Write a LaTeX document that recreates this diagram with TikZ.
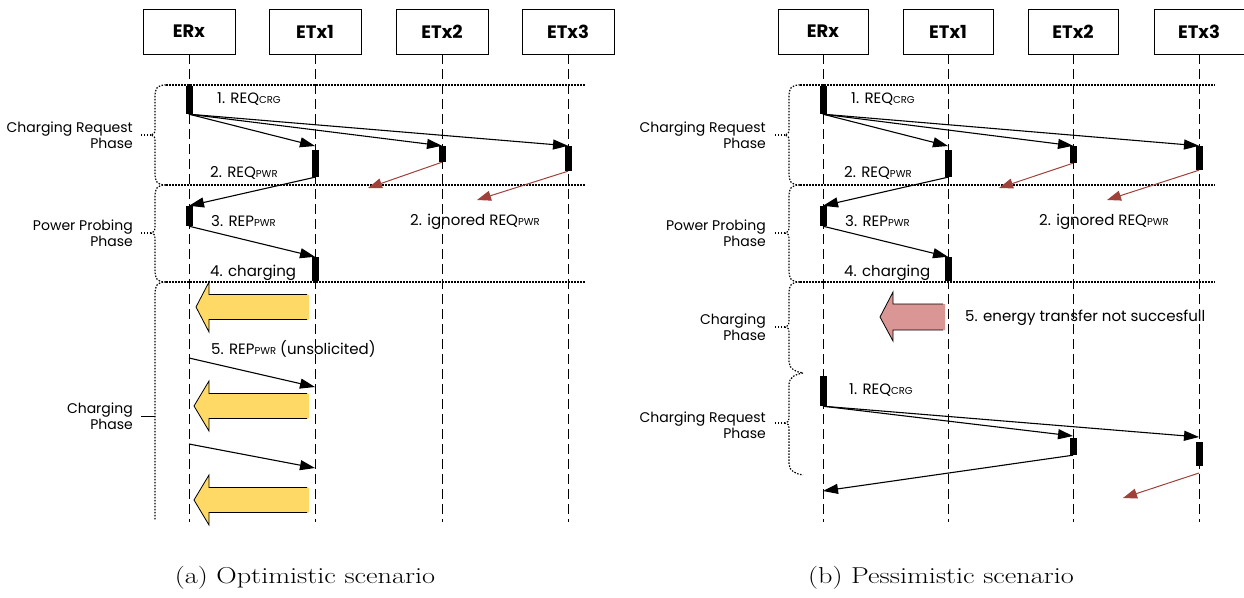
\documentclass[tikz,border=0pt]{standalone}
\usepackage{fontspec}
\usepackage{tikz}
\usetikzlibrary{arrows.meta}

\newfontfamily\diagfont{Poppins}
\definecolor{chargeyellow}{HTML}{FFD966}
\definecolor{failpink}{HTML}{D99694}
\definecolor{ignorered}{HTML}{A0403A}
\newcommand{\idx}[1]{{\fontsize{10}{10}\selectfont #1}}

\begin{document}
\begin{tikzpicture}[x=1pt,y=-1pt,
    font=\diagfont\fontsize{15}{16}\selectfont,
    entity/.style={draw,line width=0.8pt,minimum width=92pt,minimum height=45pt,
        inner sep=0pt,font=\diagfont\bfseries\fontsize{18}{18}\selectfont},
    lifeline/.style={line width=1pt,dash pattern=on 10pt off 5pt},
    phaseline/.style={line width=1.2pt,dash pattern=on 1.5pt off 1.5pt},
    bar/.style={fill=black,inner sep=0pt,minimum width=7pt},
    msg/.style={line width=1.1pt,-{Triangle[length=15pt,width=10pt]}},
    ignored/.style={ignorered,line width=1pt,-{Triangle[length=14pt,width=10pt]}},
    label/.style={inner sep=0pt,anchor=west},
    phase/.style={inner sep=0pt,anchor=east,align=right,
        font=\diagfont\fontsize{14}{16}\selectfont},
    caption/.style={font=\fontsize{23}{26}\selectfont,xscale=1.23,transform shape}]
    \useasboundingbox (0,0) rectangle (1244,597);

    % (a) Entities and lifelines
    \node [entity] (erxA) at (189,31.5) {ERx};
    \node [entity] (etxoneA) at (315,31.5) {ETx1};
    \node [entity] (etxtwoA) at (442,31.5) {ETx2};
    \node [entity] (etxthreeA) at (568,31.5) {ETx3};
    \draw [lifeline] (erxA.south) -- ++(0,468);
    \draw [lifeline] (etxoneA.south) -- ++(0,468);
    \draw [lifeline] (etxtwoA.south) -- ++(0,468);
    \draw [lifeline] (etxthreeA.south) -- ++(0,468);

    % (a) Phase separators and braces
    \draw [phaseline] (166,85) -- (585,85);
    \draw [phaseline] (166,185) -- (585,185);
    \draw [phaseline] (166,282) -- (585,282);
    \draw [phaseline] (166,85) .. controls (157,85) and (155,88) .. (155,97)
        -- (155,129) .. controls (155,133) and (154,135) .. (151,135)
        .. controls (154,135) and (155,137) .. (155,141)
        -- (155,173) .. controls (155,182) and (157,185) .. (166,185);
    \draw [phaseline] (166,185) .. controls (157,185) and (155,188) .. (155,197)
        -- (155,227) .. controls (155,231) and (154,233) .. (151,233)
        .. controls (154,233) and (155,235) .. (155,239)
        -- (155,270) .. controls (155,279) and (157,282) .. (166,282);
    \draw [phaseline] (166,282) .. controls (157,282) and (155,285) .. (155,296)
        -- (155,520);
    \draw [phaseline] (151,135) -- (141,135);
    \draw [phaseline] (151,233) -- (141,233);
    \draw [line width=0.6pt] (155,416) -- (141,416);
    \node [phase] (crpA) at (133,135) {Charging Request\\Phase};
    \node [phase] (pppA) at (133,233) {Power Probing\\Phase};
    \node [phase] (chpA) at (133,416) {Charging\\Phase};

    % (a) Activations
    \node [bar,minimum height=28pt] (rxoneA) at (189,100) {};
    \node [bar,minimum height=27pt] (txoneA) at (315,163.5) {};
    \node [bar,minimum height=16pt] (txtwoA) at (442,154) {};
    \node [bar,minimum height=25pt] (txthreeA) at (568,158.5) {};
    \node [bar,minimum height=20pt] (rxtwoA) at (189,216) {};
    \node [bar,minimum height=24pt] (txfourA) at (315,269) {};

    % (a) Messages
    \coordinate (reqoneA) at (315,146);
    \coordinate (lostoneA) at (368,188);
    \coordinate (losttwoA) at (477,200);
    \draw [msg] (rxoneA.south) -- (reqoneA);
    \draw [msg] (rxoneA.south) -- (txtwoA.north);
    \draw [msg] (rxoneA.south) -- (txthreeA.north);
    \draw [ignored] (txtwoA.south) -- (lostoneA);
    \draw [ignored] (txthreeA.south) -- (losttwoA);
    \draw [msg] (txoneA.south) -- (rxtwoA.north);
    \draw [msg] (rxtwoA.south) -- (txfourA.north);
    \coordinate (unsolAout) at (189,358);
    \coordinate (unsolAin) at (315,387);
    \coordinate (unsolBout) at (189,444);
    \coordinate (unsolBin) at (315,468);
    \draw [msg] (unsolAout) -- (unsolAin);
    \draw [msg] (unsolBout) -- (unsolBin);
    \node [label] (reqcrgA) at (217,99) {1. REQ\idx{CRG}};
    \node [label] (reqpwrA) at (210,173) {2. REQ\idx{PWR}};
    \node [label] (reppwrA) at (211,221) {3. REP\idx{PWR}};
    \node [label] (chargA) at (210,273) {4. charging};
    \node [label] (ignA) at (410,222) {2. ignored REQ\idx{PWR}};
    \node [label] (unsolA) at (211,349) {5. REP\idx{PWR} (unsolicited)};

    % (a) Energy transfer
    \foreach \y/\t in {307/196,406/194,500/194} {
        \fill [chargeyellow] (309,\y-12.5) -- (209,\y-12.5) -- (209,\y-25) -- (\t,\y)
            -- (209,\y+25) -- (209,\y+12.5) -- (309,\y+12.5) -- cycle;
        \draw [line width=0.8pt] (307,\y-12.5) -- (209,\y-12.5) -- (209,\y-25) -- (\t,\y)
            -- (209,\y+25) -- (209,\y+12.5) -- (307,\y+12.5);
    }

    % (b) Entities and lifelines
    \node [entity,minimum width=90pt] (erxB) at (823,31.5) {ERx};
    \node [entity,minimum width=90pt] (etxoneB) at (948,31.5) {ETx1};
    \node [entity,minimum width=90pt] (etxtwoB) at (1073,31.5) {ETx2};
    \node [entity,minimum width=90pt] (etxthreeB) at (1199,31.5) {ETx3};
    \draw [lifeline] (erxB.south) -- ++(0,468);
    \draw [lifeline] (etxoneB.south) -- ++(0,468);
    \draw [lifeline] (etxtwoB.south) -- ++(0,468);
    \draw [lifeline] (etxthreeB.south) -- ++(0,468);

    % (b) Phase separators and braces
    \draw [phaseline] (800,85) -- (1215,85);
    \draw [phaseline] (800,185) -- (1215,185);
    \draw [phaseline] (800,282) -- (1215,282);
    \draw [phaseline] (800,85) .. controls (791,85) and (789,88) .. (789,97)
        -- (789,129) .. controls (789,133) and (788,135) .. (785,135)
        .. controls (788,135) and (789,137) .. (789,141)
        -- (789,173) .. controls (789,182) and (791,185) .. (800,185);
    \draw [phaseline] (800,185) .. controls (791,185) and (789,188) .. (789,197)
        -- (789,227) .. controls (789,231) and (788,233) .. (785,233)
        .. controls (788,233) and (789,235) .. (789,239)
        -- (789,270) .. controls (789,279) and (791,282) .. (800,282);
    \draw [phaseline] (800,282) .. controls (791,282) and (789,285) .. (789,294)
        -- (789,321) .. controls (789,325) and (788,327) .. (785,327)
        .. controls (788,327) and (789,329) .. (789,333)
        -- (789,362) .. controls (789,369) and (796,372) .. (803,373);
    \draw [phaseline] (803,373) .. controls (796,374) and (789,377) .. (789,384)
        -- (789,417) .. controls (789,421) and (788,423) .. (785,423)
        .. controls (788,423) and (789,425) .. (789,429)
        -- (789,464) .. controls (789,471) and (796,474) .. (803,475);
    \draw [phaseline] (785,135) -- (775,135);
    \draw [phaseline] (785,233) -- (775,233);
    \draw [phaseline] (785,327) -- (775,327);
    \draw [phaseline] (785,423) -- (775,423);
    \node [phase] (crpB) at (766,135) {Charging Request\\Phase};
    \node [phase] (pppB) at (766,233) {Power Probing\\Phase};
    \node [phase] (chpB) at (766,327) {Charging\\Phase};
    \node [phase] (crqB) at (766,425) {Charging Request\\Phase};

    % (b) Activations
    \node [bar,minimum height=28pt] (rxoneB) at (823,100) {};
    \node [bar,minimum height=27pt] (txoneB) at (948,163.5) {};
    \node [bar,minimum height=17pt] (txtwoB) at (1073,154.5) {};
    \node [bar,minimum height=24pt] (txthreeB) at (1199,158) {};
    \node [bar,minimum height=20pt] (rxtwoB) at (823,216) {};
    \node [bar,minimum height=24pt] (txfourB) at (948,269) {};
    \node [bar,minimum height=30pt] (rxthreeB) at (823,391) {};
    \node [bar,minimum height=17pt] (txfiveB) at (1073,446.5) {};
    \node [bar,minimum height=24pt] (txsixB) at (1199,454) {};

    % (b) Messages
    \coordinate (reqoneB) at (948,146);
    \coordinate (lostoneB) at (999,188);
    \coordinate (losttwoB) at (1107,200);
    \draw [msg] (rxoneB.south) -- (reqoneB);
    \draw [msg] (rxoneB.south) -- (txtwoB.north);
    \draw [msg] (rxoneB.south) -- (txthreeB.north);
    \draw [ignored] (txtwoB.south) -- (lostoneB);
    \draw [ignored] (txthreeB.south) -- (losttwoB);
    \draw [msg] (txoneB.south) -- (rxtwoB.north);
    \draw [msg] (rxtwoB.south) -- (txfourB.north);
    \coordinate (reqtwoB) at (1073,436);
    \coordinate (reqthreeB) at (1199,437);
    \coordinate (backB) at (823,491);
    \coordinate (lostfromB) at (1199,473);
    \coordinate (lostthreeB) at (1123,498);
    \draw [msg] (rxthreeB.south) -- (reqtwoB);
    \draw [msg] (rxthreeB.south) -- (reqthreeB);
    \draw [msg] (txfiveB.south) -- (backB);
    \draw [ignored] (lostfromB) -- (lostthreeB);
    \node [label] (reqcrgB) at (851,99) {1. REQ\idx{CRG}};
    \node [label] (reqpwrB) at (844,173) {2. REQ\idx{PWR}};
    \node [label] (reppwrB) at (845,221) {3. REP\idx{PWR}};
    \node [label] (chargB) at (844,273) {4. charging};
    \node [label] (ignB) at (1039,222) {2. ignored REQ\idx{PWR}};
    \node [label] (failB) at (965,318) {5. energy transfer not succesfull};
    \node [label] (reqcrgC) at (849,390) {1. REQ\idx{CRG}};

    % (b) Failed transfer
    \fill [failpink] (945,304) -- (893,304) -- (893,292) -- (880,317)
        -- (893,341) -- (893,330) -- (945,330) -- cycle;
    \draw [line width=0.8pt] (943,304) -- (893,304) -- (893,292) -- (880,317)
        -- (893,341) -- (893,330) -- (943,330);

    % Captions
    \node [caption] (capA) at (305,578) {(a) Optimistic scenario};
    \node [caption] (capB) at (941,578) {(b) Pessimistic scenario};
\end{tikzpicture}
\end{document}
